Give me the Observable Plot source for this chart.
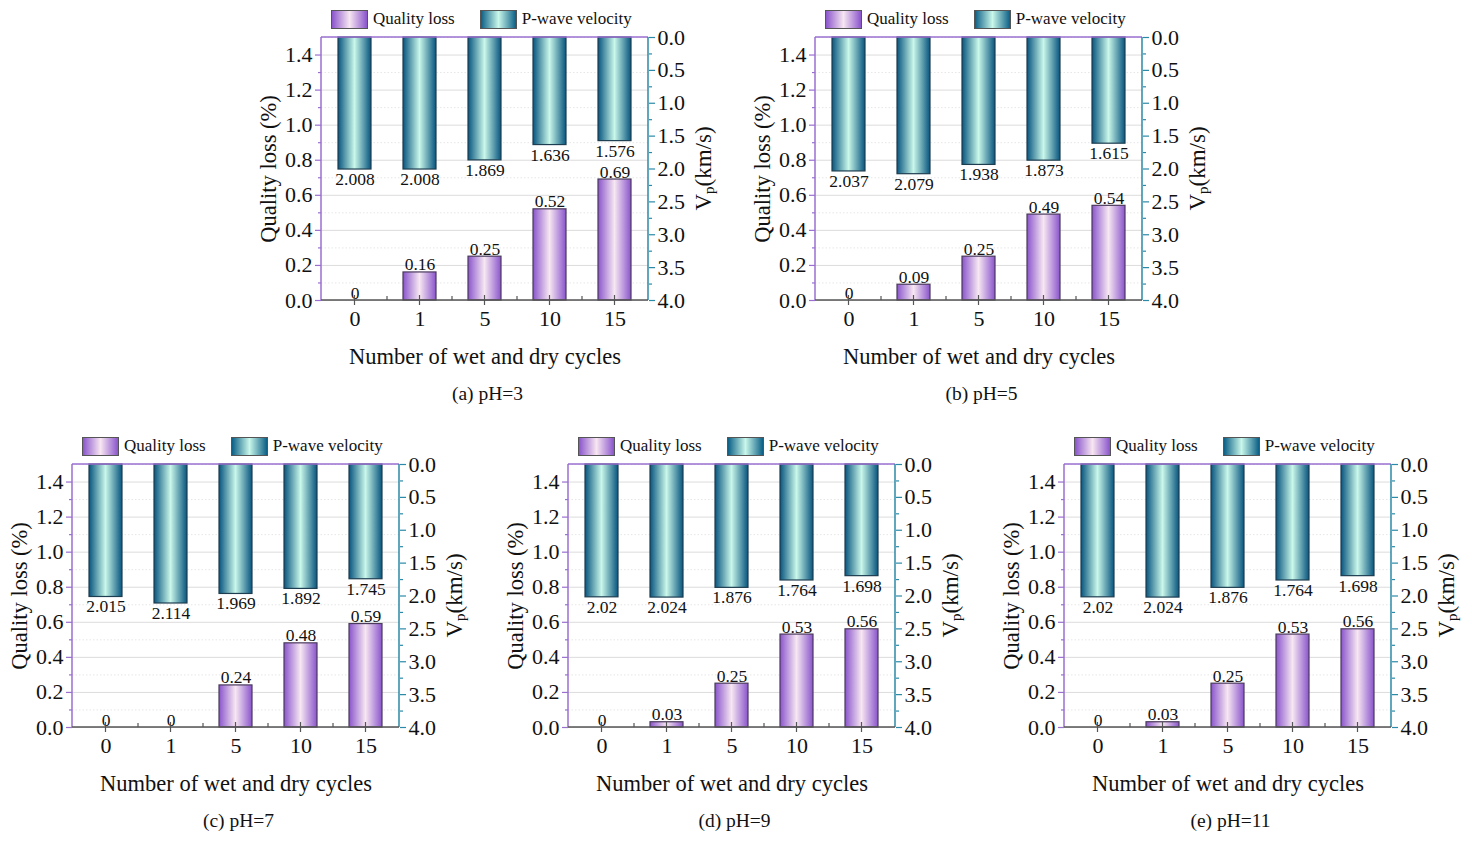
<!DOCTYPE html>
<html>
<head>
<meta charset="utf-8">
<script src="https://cdn.jsdelivr.net/npm/d3@7"></script>
<script src="https://cdn.jsdelivr.net/npm/@observablehq/plot@0.6"></script>
<style>
  html, body { margin: 0; padding: 0; background: #fff; }
  #root { position: relative; width: 1472px; height: 843px; overflow: hidden; font-family: "Liberation Serif", "Times New Roman", serif; }
  .panel { position: absolute; }
  .legend { position: absolute; display: flex; align-items: center; font-size: 17px; color: #111; white-space: nowrap; }
  .sw { width: 37px; height: 19px; border: 1px solid #555; margin-right: 5px; box-sizing: border-box; }
  .swq { background: linear-gradient(to right, #8a55cc, #f7e6f1 50%, #8a55cc); }
  .swv { background: linear-gradient(to right, #0b5f86, #c9f7ea 50%, #0b5f86); }
  .caption { position: absolute; font-size: 19.5px; color: #111; transform: translateX(-50%); white-space: nowrap; }
</style>
</head>
<body>
<div id="root"></div>
<script>
// ---- data ----
const cycles = ["0", "1", "5", "10", "15"];
const captions = ["(a) pH=3", "(b) pH=5", "(c) pH=7", "(d) pH=9", "(e) pH=11"];
const qualityLossA = [0, 0.16, 0.25, 0.52, 0.69];
const velocityA = [2.008, 2.008, 1.869, 1.636, 1.576];
const qualityLossB = [0, 0.09, 0.25, 0.49, 0.54];
const velocityB = [2.037, 2.079, 1.938, 1.873, 1.615];
const qualityLossC = [0, 0, 0.24, 0.48, 0.59];
const velocityC = [2.015, 2.114, 1.969, 1.892, 1.745];
const qualityLossD = [0, 0.03, 0.25, 0.53, 0.56];
const velocityD = [2.02, 2.024, 1.876, 1.764, 1.698];
const qualityLossE = [0, 0.03, 0.25, 0.53, 0.56];
const velocityE = [2.02, 2.024, 1.876, 1.764, 1.698];
const qlTicks = [0, 0.2, 0.4, 0.6, 0.8, 1.0, 1.2, 1.4];
const qlMinorTicks = [0.1, 0.3, 0.5, 0.7, 0.9, 1.1, 1.3, 1.5];
const vpTicks = [0, 0.5, 1.0, 1.5, 2.0, 2.5, 3.0, 3.5, 4.0];
const vpMinorTicks = [0.25, 0.75, 1.25, 1.75, 2.25, 2.75, 3.25, 3.75];
const legendLabels = ["Quality loss", "P-wave velocity"];
const xTitle = "Number of wet and dry cycles";
const yTitle = "Quality loss (%)";

// ---- layout ----
const panels = [
  { id: "a", ql: qualityLossA, vp: velocityA, left: 321, top: 37 },
  { id: "b", ql: qualityLossB, vp: velocityB, left: 815, top: 37 },
  { id: "c", ql: qualityLossC, vp: velocityC, left: 72, top: 464 },
  { id: "d", ql: qualityLossD, vp: velocityD, left: 568, top: 464 },
  { id: "e", ql: qualityLossE, vp: velocityE, left: 1064, top: 464 }
];
const PW = 327, PH = 263;
const ML = 75, MR = 80, MT = 12, MB = 70;
const QMAX = 1.5, VMAX = 4;
const PURPLE = "#9a6fd0", TEAL = "#2b8aa8", AXISGRAY = "#555";
const FONT = '"Liberation Serif", "Times New Roman", serif';

const root = document.getElementById("root");

panels.forEach((p, k) => {
  const rows = cycles.map((c, i) => ({ c, ql: p.ql[i], vp: p.vp[i] }));
  const vpToY = v => QMAX * (1 - v / VMAX);

  const defsMark = () => {
    const defs = d3.create("svg:defs");
    const gq = defs.append("linearGradient").attr("id", "gq" + p.id).attr("x1", 0).attr("x2", 1).attr("y1", 0).attr("y2", 0);
    gq.append("stop").attr("offset", "0%").attr("stop-color", "#8a55cc");
    gq.append("stop").attr("offset", "50%").attr("stop-color", "#f7e7f2");
    gq.append("stop").attr("offset", "100%").attr("stop-color", "#8a55cc");
    const gv = defs.append("linearGradient").attr("id", "gv" + p.id).attr("x1", 0).attr("x2", 1).attr("y1", 0).attr("y2", 0);
    gv.append("stop").attr("offset", "0%").attr("stop-color", "#07557e");
    gv.append("stop").attr("offset", "50%").attr("stop-color", "#c9f7ea");
    gv.append("stop").attr("offset", "100%").attr("stop-color", "#07557e");
    return defs.node();
  };

  const frameMark = (index, scales, values, dim) => {
    const g = d3.create("svg:g");
    const L = dim.marginLeft, R = dim.width - dim.marginRight, T = dim.marginTop, B = dim.height - dim.marginBottom;
    const x = scales.x;
    const step = x(cycles[1]) - x(cycles[0]);
    const bw = typeof x.bandwidth === "function" ? x.bandwidth() : (x.bandwidth ?? step * 0.5);
    cycles.forEach((c, i) => {
      const cx = x(c) + bw / 2;
      g.append("line").attr("x1", cx).attr("x2", cx).attr("y1", B - 5).attr("y2", B + 5).attr("stroke", AXISGRAY).attr("stroke-width", 1.2);
      if (i > 0) {
        const mx = x(c) - (step - bw) / 2;
        g.append("line").attr("x1", mx).attr("x2", mx).attr("y1", B - 4).attr("y2", B).attr("stroke", AXISGRAY).attr("stroke-width", 1.2);
      }
    });
    g.append("line").attr("x1", L).attr("x2", R).attr("y1", T).attr("y2", T).attr("stroke", PURPLE).attr("stroke-width", 1.5);
    g.append("line").attr("x1", L).attr("x2", L).attr("y1", T).attr("y2", B).attr("stroke", PURPLE).attr("stroke-width", 1.5);
    g.append("line").attr("x1", R).attr("x2", R).attr("y1", T).attr("y2", B).attr("stroke", TEAL).attr("stroke-width", 1.5);
    g.append("line").attr("x1", L).attr("x2", R).attr("y1", B).attr("y2", B).attr("stroke", AXISGRAY).attr("stroke-width", 1.5);
    const t = g.append("text")
      .attr("transform", `translate(${R + 55},${(T + B) / 2}) rotate(-90)`)
      .attr("text-anchor", "middle").attr("dominant-baseline", "central")
      .attr("font-size", 23).attr("font-family", FONT).attr("fill", "#111");
    t.append("tspan").text("V");
    t.append("tspan").attr("font-size", 15).attr("dy", 6).text("p");
    t.append("tspan").attr("dy", -6).text("(km/s)");
    return g.node();
  };

  const chart = Plot.plot({
    width: ML + PW + MR,
    height: MT + PH + MB,
    marginLeft: ML, marginRight: MR, marginTop: MT, marginBottom: MB,
    style: { fontFamily: FONT, fontSize: "22px", background: "transparent", overflow: "visible", color: "#111" },
    x: { type: "band", domain: cycles, paddingInner: 0.5, paddingOuter: 0.25 },
    y: { domain: [0, QMAX] },
    marks: [
      defsMark,
      Plot.gridY(qlMinorTicks, { stroke: "#e6e6e6", strokeOpacity: 1, strokeDasharray: "1.5,2" }),
      Plot.gridY(qlTicks, { stroke: "#dcdcdc", strokeOpacity: 1 }),
      Plot.barY(rows, { x: "c", y1: () => QMAX, y2: d => vpToY(d.vp), fill: `url(#gv${p.id})`, stroke: "#1d3d50", strokeWidth: 1.2 }),
      Plot.barY(rows, { x: "c", y: "ql", fill: `url(#gq${p.id})`, stroke: "#4a3a5c", strokeWidth: 1.2 }),
      Plot.text(rows, { x: "c", y: d => vpToY(d.vp), text: d => String(d.vp), lineAnchor: "top", dy: 3, fontSize: 17.5, fill: "#111" }),
      Plot.text(rows, { x: "c", y: "ql", text: d => String(d.ql), lineAnchor: "bottom", dy: -2, fontSize: 17.5, fill: "#111" }),
      Plot.axisY(qlMinorTicks.filter(v => v < QMAX), { anchor: "left", tickSize: 3, stroke: PURPLE, strokeWidth: 1.2, tickFormat: () => "", label: null }),
      Plot.axisY(qlTicks, { anchor: "left", tickSize: 6, tickPadding: 3, stroke: PURPLE, strokeWidth: 1.2, fill: "#111", fontSize: 22, tickFormat: d => d.toFixed(1), label: null }),
      Plot.axisY(vpMinorTicks.map(vpToY), { anchor: "right", tickSize: 3, stroke: TEAL, strokeWidth: 1.2, tickFormat: () => "", label: null }),
      Plot.axisY(vpTicks.map(vpToY), { anchor: "right", tickSize: 6, tickPadding: 3, stroke: TEAL, strokeWidth: 1.2, fill: "#111", fontSize: 22, tickFormat: d => (Math.round(VMAX * (1 - d / QMAX) * 10) / 10).toFixed(1), label: null }),
      Plot.axisX({ tickSize: 0, tickPadding: 10, fill: "#111", fontSize: 22, label: null }),
      Plot.text([xTitle], { frameAnchor: "bottom", lineAnchor: "middle", dy: 56, fontSize: 22.5, fill: "#111" }),
      Plot.text([yTitle], { frameAnchor: "left", textAnchor: "middle", lineAnchor: "middle", dx: -53, rotate: -90, fontSize: 22.5, fill: "#111" }),
      frameMark
    ]
  });

  const wrap = document.createElement("div");
  wrap.className = "panel";
  wrap.style.left = (p.left - ML) + "px";
  wrap.style.top = (p.top - MT) + "px";
  wrap.appendChild(chart);
  root.appendChild(wrap);

  const lg = document.createElement("div");
  lg.className = "legend";
  lg.style.left = (p.left + 10) + "px";
  lg.style.top = (p.top - 28) + "px";
  lg.innerHTML = `<div class="sw swq"></div><span style="margin-right:25px">${legendLabels[0]}</span><div class="sw swv"></div><span>${legendLabels[1]}</span>`;
  root.appendChild(lg);

  const cap = document.createElement("div");
  cap.className = "caption";
  cap.style.left = (p.left + PW / 2 + 3) + "px";
  cap.style.top = (p.top + PH + 83) + "px";
  cap.textContent = captions[k];
  root.appendChild(cap);
});
</script>
</body>
</html>
